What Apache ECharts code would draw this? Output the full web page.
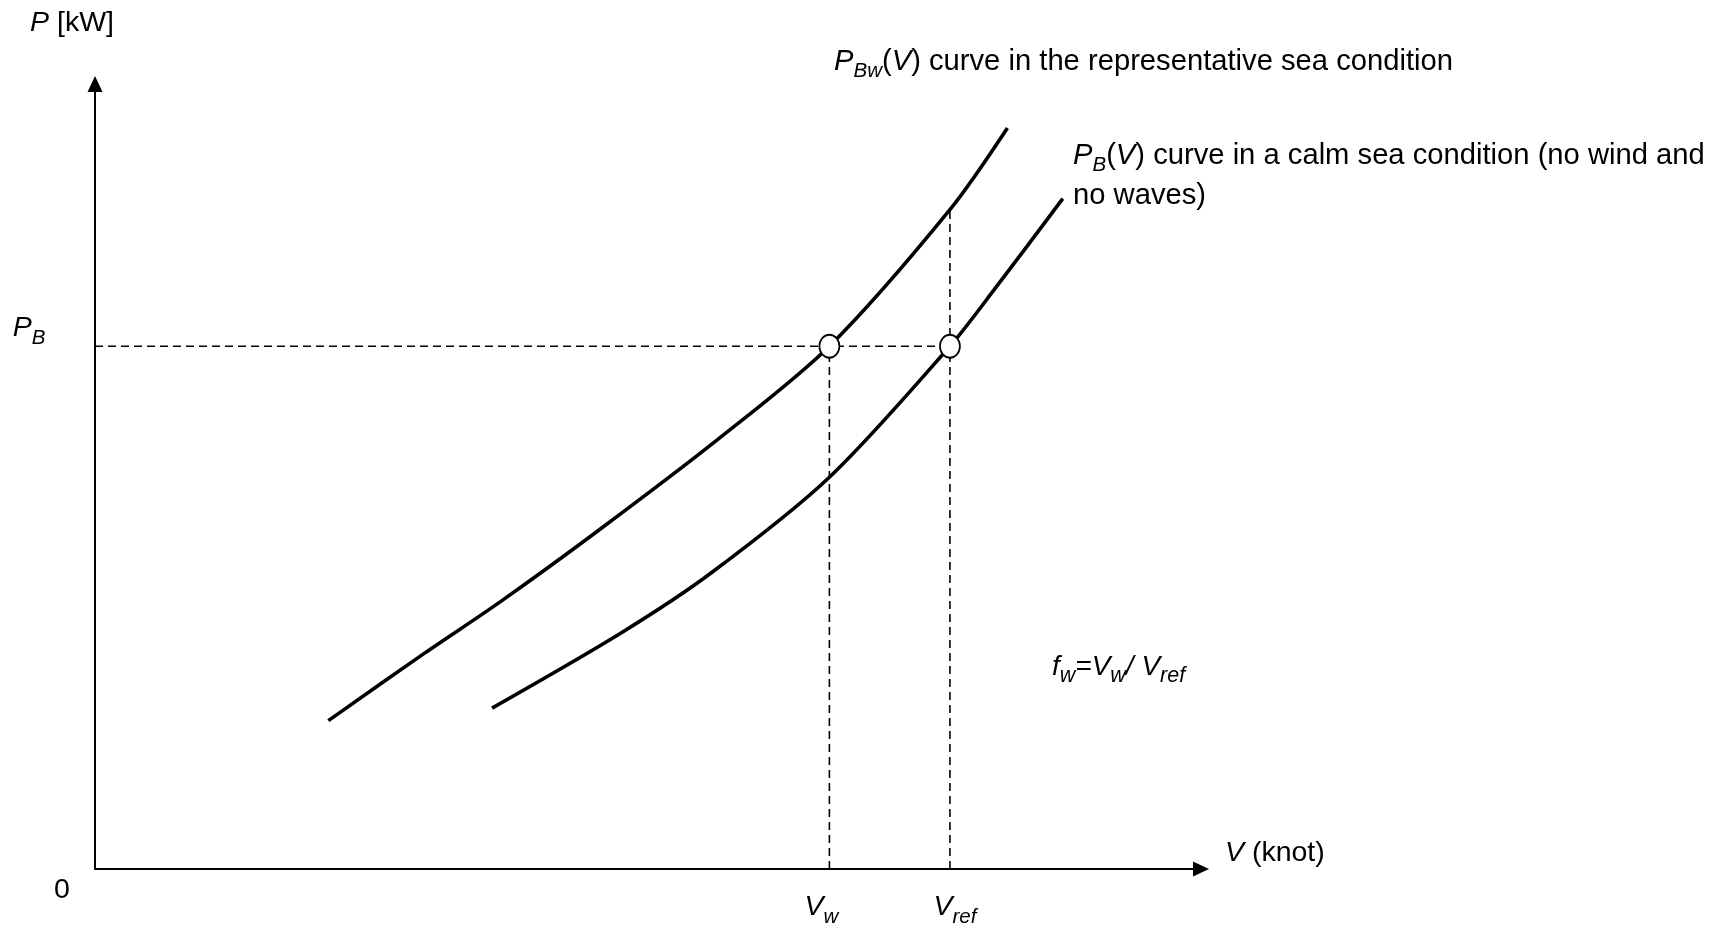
<!DOCTYPE html>
<html>
<head>
<meta charset="utf-8">
<title>P-V curves</title>
<script src="https://cdn.jsdelivr.net/npm/echarts@6.0.0/dist/echarts.min.js"></script>
<style>
    html, body { margin: 0; padding: 0; background: #fff; }
    #main { width: 1713px; height: 929px; }
</style>
</head>
<body>
<div id="main"></div>
<script>
    // speed V (x) and power P (y), arbitrary units
    var bwSpeed = [21.1, 29.8, 36.6, 45.3, 56.2, 66.4, 77.3, 82.5];
    var bwPower = [18.9, 27.5, 34.0, 42.9, 54.6, 66.6, 84.0, 94.4];
    var calmSpeed = [35.9, 47.6, 55.7, 66.4, 77.3, 81.3, 87.5];
    var calmPower = [20.5, 30.1, 37.7, 49.9, 66.6, 73.8, 85.4];

    // reference points
    var vW = 66.4, vRef = 77.3;
    var pB = 66.6, pBwAtRef = 84.0;

    var FONT = 'Liberation Sans, Arial, sans-serif';
    function makeRich(size, subSize) {
        return {
            n: { fontFamily: FONT, fontSize: size, lineHeight: 40, color: '#000', verticalAlign: 'middle' },
            i: { fontFamily: FONT, fontSize: size, fontStyle: 'italic', lineHeight: 40, color: '#000', verticalAlign: 'middle' },
            s: { fontFamily: FONT, fontSize: subSize, fontStyle: 'italic', lineHeight: 20, color: '#000', verticalAlign: 'bottom' }
        };
    }
    var richText = makeRich(28.5, 20.5);
    var richNote = makeRich(29.2, 20.5);

    function zip(xs, ys) {
        return xs.map(function (x, k) { return [x, ys[k]]; });
    }

    // labels hung on points of the axes
    var axisMarks = [
        { value: [0, 0], text: '{n|0}', offset: [-33, 21] },
        { value: [0, pB], text: '{i|P}{s|B}', offset: [-66, -18] },
        { value: [vW, 0], text: '{i|V}{s|w}', offset: [-8, 38] },
        { value: [vRef, 0], text: '{i|V}{s|ref}', offset: [5, 38] }
    ];

    var dashStyle = { color: '#000', width: 1.6, type: [8, 5] };
    var arrowLine = {
        show: true, onZero: false,
        symbol: ['none', 'triangle'], symbolSize: [15, 16],
        lineStyle: { color: '#000', width: 2 }
    };

    var myChart = echarts.init(document.getElementById('main'));

    var option = {
        animation: false,
        backgroundColor: '#fff',
        grid: {
            left: 95, right: 512, top: 84, bottom: 60,
            containLabel: false,
            outerBoundsMode: 'none'
        },
        xAxis: {
            type: 'value', min: 0, max: 100,
            axisLine: arrowLine,
            axisTick: { show: false },
            axisLabel: { show: false },
            splitLine: { show: false },
            name: '{i|V}{n| (knot)}',
            nameLocation: 'end',
            nameGap: 24,
            nameTextStyle: { rich: richText, padding: [0, 0, 32, 0] }
        },
        yAxis: {
            type: 'value', min: 0, max: 100,
            axisLine: arrowLine,
            axisTick: { show: false },
            axisLabel: { show: false },
            splitLine: { show: false },
            name: '{i|P}{n| [kW]}',
            nameLocation: 'end',
            nameGap: 41,
            nameTextStyle: { rich: richText, padding: [0, 46, 0, 0] }
        },
        // free annotations
        graphic: [{
            type: 'text', left: 834, top: 47,
            style: {
                text: '{i|P}{s|Bw}{n|(}{i|V}{n|) curve in the representative sea condition}',
                rich: richNote
            }
        }, {
            type: 'text', left: 1073, top: 141,
            style: {
                text: '{i|P}{s|B}{n|(}{i|V}{n|) curve in a calm sea condition (no wind and}\n{n|no waves)}',
                rich: richNote
            }
        }, {
            type: 'text', left: 1052, top: 653,
            style: {
                text: '{i|f}{s|w}{i|=V}{s|w}{i|/ V}{s|ref}',
                rich: makeRich(28, 21.5)
            }
        }],
        series: [{
            // P_B horizontal guide
            type: 'line', silent: true, symbol: 'none', z: 1,
            data: [[0, pB], [vRef, pB]],
            lineStyle: dashStyle
        }, {
            // V_w vertical guide
            type: 'line', silent: true, symbol: 'none', z: 1,
            data: [[vW, 0], [vW, pB]],
            lineStyle: dashStyle
        }, {
            // V_ref vertical guide
            type: 'line', silent: true, symbol: 'none', z: 1,
            data: [[vRef, 0], [vRef, pBwAtRef]],
            lineStyle: dashStyle
        }, {
            name: 'PBw',
            type: 'line', smooth: 0.3, showSymbol: false, z: 2,
            data: zip(bwSpeed, bwPower),
            lineStyle: { color: '#000', width: 3.6 }
        }, {
            name: 'PB',
            type: 'line', smooth: 0.3, showSymbol: false, z: 2,
            data: zip(calmSpeed, calmPower),
            lineStyle: { color: '#000', width: 3.6 }
        }, {
            // the two open circles
            type: 'scatter', z: 3, symbol: 'circle', symbolSize: [20, 23],
            data: [[vW, pB], [vRef, pB]],
            itemStyle: { color: '#fff', borderColor: '#000', borderWidth: 1.8, opacity: 1 }
        }, {
            // axis point labels
            type: 'scatter', z: 4, symbolSize: 1, silent: true, clip: false,
            itemStyle: { color: 'rgba(0,0,0,0)', opacity: 1 },
            data: axisMarks.map(function (m) {
                return {
                    value: m.value,
                    label: {
                        show: true, position: 'inside', formatter: m.text,
                        offset: m.offset, rich: richText, color: '#000', opacity: 1
                    }
                };
            })
        }]
    };

    myChart.setOption(option);
</script>
</body>
</html>
